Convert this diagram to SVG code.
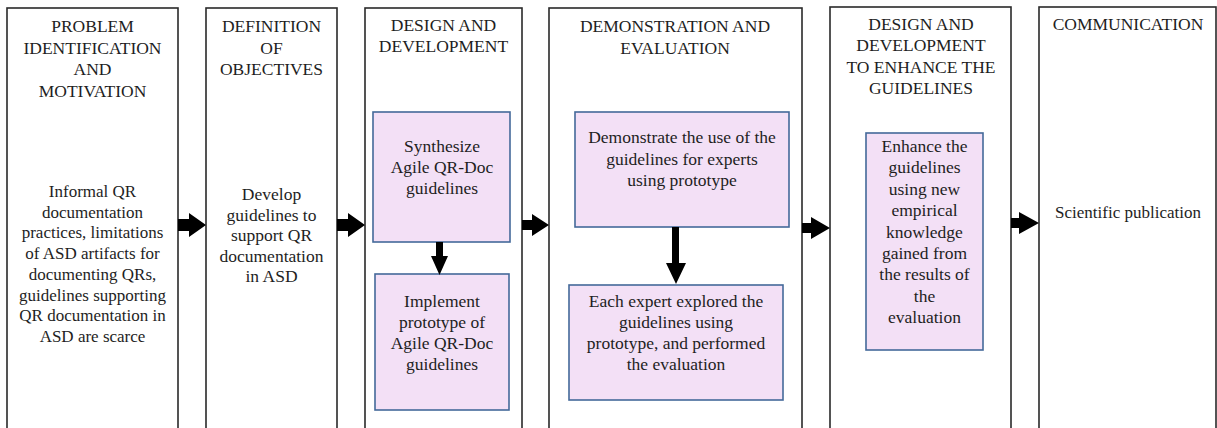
<svg xmlns="http://www.w3.org/2000/svg" width="1217" height="428" viewBox="0 0 1217 428">
<style>
.outer{fill:#ffffff;stroke:#2a2a2a;stroke-width:1.6}
.inner{fill:#f3e0f6;stroke:#44699a;stroke-width:1.6}
.t{font-family:'Liberation Serif','Times New Roman','DejaVu Serif',serif;font-size:17.5px;fill:#1e1e1e;text-anchor:middle}
.arrow{fill:#000000}
</style>
<rect x="0" y="0" width="1217" height="428" fill="#ffffff"/>
<g id="n1">
<rect class="outer" x="7" y="8" width="171" height="422"/>
<text class="t" x="92.5"><tspan x="92.5" y="32">PROBLEM</tspan><tspan x="92.5" y="53.5">IDENTIFICATION</tspan><tspan x="92.5" y="75">AND</tspan><tspan x="92.5" y="96.5">MOTIVATION</tspan></text>
<text class="t" style="font-size:17px" x="92.5"><tspan x="92.5" y="197">Informal QR</tspan><tspan x="92.5" y="217.7">documentation</tspan><tspan x="92.5" y="238.4">practices, limitations</tspan><tspan x="92.5" y="259.1">of ASD artifacts for</tspan><tspan x="92.5" y="279.8">documenting QRs,</tspan><tspan x="92.5" y="300.5">guidelines supporting</tspan><tspan x="92.5" y="321.2">QR documentation in</tspan><tspan x="92.5" y="341.9">ASD are scarce</tspan></text>
</g>
<g id="n2">
<rect class="outer" x="206" y="8" width="131" height="422"/>
<text class="t" x="271.5"><tspan x="271.5" y="32">DEFINITION</tspan><tspan x="271.5" y="53.5">OF</tspan><tspan x="271.5" y="75">OBJECTIVES</tspan></text>
<text class="t" x="271.5"><tspan x="271.5" y="200">Develop</tspan><tspan x="271.5" y="220.5">guidelines to</tspan><tspan x="271.5" y="241">support QR</tspan><tspan x="271.5" y="261.5">documentation</tspan><tspan x="271.5" y="282">in ASD</tspan></text>
</g>
<g id="n3">
<rect class="outer" x="365" y="8" width="157" height="422"/>
<text class="t" x="443.5"><tspan x="443.5" y="30.5">DESIGN AND</tspan><tspan x="443.5" y="52">DEVELOPMENT</tspan></text>
</g>
<g id="n3a">
<rect class="inner" x="373" y="112" width="137" height="130"/>
<text class="t" x="442"><tspan x="442" y="152">Synthesize</tspan><tspan x="442" y="173">Agile QR-Doc</tspan><tspan x="442" y="194">guidelines</tspan></text>
</g>
<g id="n3b">
<rect class="inner" x="375" y="274" width="134" height="136"/>
<text class="t" x="442"><tspan x="442" y="307">Implement</tspan><tspan x="442" y="328">prototype of</tspan><tspan x="442" y="349">Agile QR-Doc</tspan><tspan x="442" y="370">guidelines</tspan></text>
</g>
<g id="n4">
<rect class="outer" x="549" y="8" width="253" height="422"/>
<text class="t" x="675"><tspan x="675" y="32">DEMONSTRATION AND</tspan><tspan x="675" y="53.5">EVALUATION</tspan></text>
</g>
<g id="n4a">
<rect class="inner" x="575" y="112" width="214" height="115"/>
<text class="t" x="682"><tspan x="682" y="143">Demonstrate the use of the</tspan><tspan x="682" y="164.5">guidelines for experts</tspan><tspan x="682" y="186">using prototype</tspan></text>
</g>
<g id="n4b">
<rect class="inner" x="569" y="285" width="214" height="115"/>
<text class="t" x="676"><tspan x="676" y="307">Each expert explored the</tspan><tspan x="676" y="328">guidelines using</tspan><tspan x="676" y="349">prototype, and performed</tspan><tspan x="676" y="370">the evaluation</tspan></text>
</g>
<g id="n5">
<rect class="outer" x="830" y="7" width="181" height="423"/>
<text class="t" x="921"><tspan x="921" y="29.5">DESIGN AND</tspan><tspan x="921" y="51">DEVELOPMENT</tspan><tspan x="921" y="72.5">TO ENHANCE THE</tspan><tspan x="921" y="94">GUIDELINES</tspan></text>
</g>
<g id="n5a">
<rect class="inner" x="866" y="133" width="117" height="217"/>
<text class="t" x="924.5"><tspan x="924.5" y="152">Enhance the</tspan><tspan x="924.5" y="173.4">guidelines</tspan><tspan x="924.5" y="194.8">using new</tspan><tspan x="924.5" y="216.2">empirical</tspan><tspan x="924.5" y="237.6">knowledge</tspan><tspan x="924.5" y="259">gained from</tspan><tspan x="924.5" y="280.4">the results of</tspan><tspan x="924.5" y="301.8">the</tspan><tspan x="924.5" y="323.2">evaluation</tspan></text>
</g>
<g id="n6">
<rect class="outer" x="1039" y="7" width="177" height="423"/>
<text class="t" x="1128"><tspan x="1128" y="29.5">COMMUNICATION</tspan></text>
<text class="t" style="font-size:17px" x="1128"><tspan x="1128" y="218">Scientific publication</tspan></text>
</g>
<g id="connectors">
<polygon class="arrow" points="178,219 189,219 189,213 206,225 189,237 189,231 178,231"/>
<polygon class="arrow" points="337,219 348,219 348,213 365,225 348,237 348,231 337,231"/>
<polygon class="arrow" points="522,220 532,220 532,214 549,225 532,236 532,230 522,230"/>
<polygon class="arrow" points="802,223 811,223 811,217 830,228 811,239 811,233 802,233"/>
<polygon class="arrow" points="1011,218 1019,218 1019,212 1039,223 1019,234 1019,228 1011,228"/>
<polygon class="arrow" points="436,242 443,242 443,256 448,256 439.5,275 431,256 436,256"/>
<polygon class="arrow" points="672,227 679,227 679,263 686,263 676,284 666,263 672,263"/>
</g>
</svg>
